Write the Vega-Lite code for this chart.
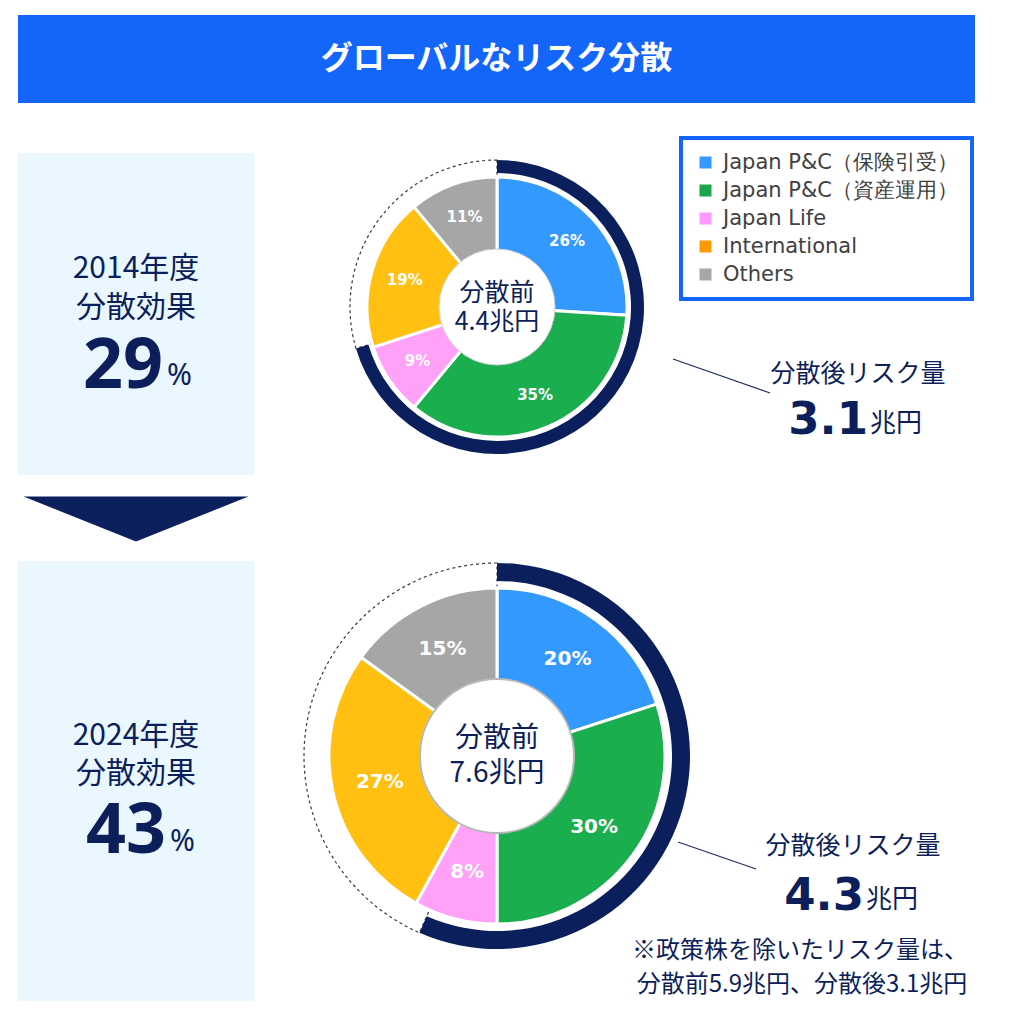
{
  "$schema": "https://vega.github.io/schema/vega-lite/v6.json",
  "padding": {"left": 18, "top": 15, "right": 5, "bottom": 5},
  "background": "white",
  "config": {
    "font": "Noto Sans CJK JP",
    "view": {"stroke": null}
  },
  "datasets": {
    "pie2014": [
      {"seg": "Japan P&C（保険引受）", "k": 1, "share": 0.26},
      {"seg": "Japan P&C（資産運用）", "k": 2, "share": 0.35},
      {"seg": "Japan Life", "k": 3, "share": 0.09},
      {"seg": "International", "k": 4, "share": 0.19},
      {"seg": "Others", "k": 5, "share": 0.11}
    ],
    "pie2024": [
      {"seg": "Japan P&C（保険引受）", "k": 1, "share": 0.20},
      {"seg": "Japan P&C（資産運用）", "k": 2, "share": 0.30},
      {"seg": "Japan Life", "k": 3, "share": 0.08},
      {"seg": "International", "k": 4, "share": 0.27},
      {"seg": "Others", "k": 5, "share": 0.15}
    ],
    "ring2014": [
      {"part": "after", "k": 1, "amount": 3.1},
      {"part": "reduction", "k": 2, "amount": 1.3}
    ],
    "ring2024": [
      {"part": "after", "k": 1, "amount": 4.3},
      {"part": "reduction", "k": 2, "amount": 3.3}
    ],
    "center2014": [{"title": "分散前", "total": "4.4兆円", "label": "分散後リスク量", "after": "3.1", "unit": "兆円"}],
    "center2024": [{"title": "分散前", "total": "7.6兆円", "label": "分散後リスク量", "after": "4.3", "unit": "兆円",
                    "note1": "※政策株を除いたリスク量は、", "note2": "分散前5.9兆円、分散後3.1兆円"}],
    "box2014": [{"year": "2014年度", "label": "分散効果", "effect": "29", "unit": "%"}],
    "box2024": [{"year": "2024年度", "label": "分散効果", "effect": "43", "unit": "%"}],
    "legend": [
      {"seg": "Japan P&C（保険引受）", "k": 1},
      {"seg": "Japan P&C（資産運用）", "k": 2},
      {"seg": "Japan Life", "k": 3},
      {"seg": "International", "k": 4},
      {"seg": "Others", "k": 5}
    ],
    "heading": [{"t": "グローバルなリスク分散"}],
    "blank": [{"t": ""}]
  },
  "resolve": {"scale": {"color": "independent", "theta": "independent"}, "legend": {"color": "independent"}},
  "spacing": 33,
  "vconcat": [
    {
      "width": 957,
      "height": 88,
      "view": {"fill": "#1466fb"},
      "data": {"name": "heading"},
      "mark": {"type": "text", "fontSize": 32, "fontWeight": "bold", "color": "white", "baseline": "middle"},
      "encoding": {"text": {"field": "t"}}
    },
    {
      "resolve": {"scale": {"color": "independent", "theta": "independent"}, "legend": {"color": "independent"}},
      "spacing": 0,
      "vconcat": [
        {
          "resolve": {"scale": {"color": "independent", "theta": "independent"}, "legend": {"color": "independent"}},
          "spacing": 73,
          "hconcat": [
            {
              "spacing": 0,
              "vconcat": [
                {
                  "width": 236, "height": 16,
                  "data": {"name": "blank"},
                  "mark": "text",
                  "encoding": {"text": {"field": "t"}}
                },
                {
                  "width": 236, "height": 322,
                  "view": {"fill": "#eaf7fe"},
                  "data": {"name": "box2014"},
                  "layer": [
                    {"mark": {"type": "text", "fontSize": 30, "color": "#0d1f5a", "baseline": "middle", "dy": -45},
                     "encoding": {"text": {"field": "year"}}},
                    {"mark": {"type": "text", "fontSize": 30, "color": "#0d1f5a", "baseline": "middle", "dy": -6},
                     "encoding": {"text": {"field": "label"}}},
                    {"mark": {"type": "text", "font": "Noto Sans", "fontSize": 70, "fontWeight": "bold", "color": "#0d1f5a", "align": "right", "baseline": "alphabetic", "dx": 27, "dy": 74},
                     "encoding": {"text": {"field": "effect"}}},
                    {"mark": {"type": "text", "font": "Noto Sans", "fontSize": 30, "color": "#0d1f5a", "align": "left", "baseline": "alphabetic", "dx": 31, "dy": 71},
                     "encoding": {"text": {"field": "unit"}}}
                  ]
                }
              ]
            },
            {
              "width": 340, "height": 340,
              "resolve": {"scale": {"theta": "independent", "color": "independent"}, "legend": {"color": "independent"}},
              "layer": [
                {
                  "data": {"name": "ring2014"},
                  "mark": {"type": "arc", "radius": 147, "radius2": 0, "filled": false, "stroke": "#3a3a3a", "strokeWidth": 1.2, "strokeDash": [3, 3]},
                  "encoding": {
                    "theta": {"field": "amount", "type": "quantitative", "stack": true},
                    "order": {"field": "k"},
                    "strokeOpacity": {"condition": {"test": "datum.part === 'reduction'", "value": 1}, "value": 0}
                  }
                },
                {
                  "data": {"name": "ring2014"},
                  "mark": {"type": "arc", "radius": 147, "radius2": 134, "color": "#0b1f5c"},
                  "encoding": {
                    "theta": {"field": "amount", "type": "quantitative", "stack": true},
                    "order": {"field": "k"},
                    "fillOpacity": {"condition": {"test": "datum.part === 'after'", "value": 1}, "value": 0}
                  }
                },
                {
                  "data": {"name": "pie2014"},
                  "mark": {"type": "arc", "radius": 130, "stroke": "white", "strokeWidth": 3},
                  "encoding": {
                    "theta": {"field": "share", "type": "quantitative", "stack": true},
                    "order": {"field": "k"},
                    "color": {"field": "seg", "type": "nominal", "legend": null,
                      "scale": {"domain": ["Japan P&C（保険引受）", "Japan P&C（資産運用）", "Japan Life", "International", "Others"],
                                "range": ["#3399ff", "#1bae4f", "#ffa1f7", "#ffc012", "#a6a6a6"]}}
                  }
                },
                {
                  "data": {"name": "pie2014"},
                  "mark": {"type": "text", "radius": 96, "font": "DejaVu Sans", "fontSize": 15, "fontWeight": "bold", "color": "white"},
                  "encoding": {
                    "theta": {"field": "share", "type": "quantitative", "stack": true},
                    "order": {"field": "k"},
                    "text": {"field": "share", "type": "quantitative", "format": ".0%"}
                  }
                },
                {
                  "data": {"name": "center2014"},
                  "mark": {"type": "point", "shape": "circle", "size": 13456, "filled": true, "fill": "white", "stroke": "#d0d0d0", "strokeWidth": 1, "opacity": 1}
                },
                {
                  "data": {"name": "center2014"},
                  "mark": {"type": "text", "fontSize": 25, "color": "#0d1f5a", "baseline": "middle", "dy": -14},
                  "encoding": {"text": {"field": "title"}}
                },
                {
                  "data": {"name": "center2014"},
                  "mark": {"type": "text", "fontSize": 25, "color": "#0d1f5a", "baseline": "middle", "dy": 15},
                  "encoding": {"text": {"field": "total"}}
                },
                {
                  "data": {"name": "center2014"},
                  "mark": {"type": "point", "shape": "M1.76,0.52L2.73,0.86", "size": 40000, "filled": false, "stroke": "#1d2d5e", "strokeWidth": 1.2, "opacity": 1}
                },
                {
                  "data": {"name": "center2014"},
                  "mark": {"type": "text", "fontSize": 25, "color": "#0d1f5a", "baseline": "middle", "dx": 361, "dy": 67},
                  "encoding": {"text": {"field": "label"}}
                },
                {
                  "data": {"name": "center2014"},
                  "mark": {"type": "text", "font": "DejaVu Sans", "fontSize": 45, "fontWeight": "bold", "color": "#0d1f5a", "align": "right", "baseline": "alphabetic", "dx": 371, "dy": 127},
                  "encoding": {"text": {"field": "after"}}
                },
                {
                  "data": {"name": "center2014"},
                  "mark": {"type": "text", "fontSize": 26, "color": "#0d1f5a", "align": "left", "baseline": "alphabetic", "dx": 373, "dy": 125},
                  "encoding": {"text": {"field": "unit"}}
                },
                {
                  "data": {"name": "legend"},
                  "mark": {"type": "text"},
                  "encoding": {
                    "text": {"value": ""},
                    "color": {"field": "seg", "type": "nominal",
                      "scale": {"domain": ["Japan P&C（保険引受）", "Japan P&C（資産運用）", "Japan Life", "International", "Others"],
                                "range": ["#3399ff", "#1aa64a", "#ff99ff", "#ff9900", "#a6a6a6"]},
                      "legend": {"title": null, "orient": "none", "legendX": 354, "legendY": 1, "padding": 14,
                                 "symbolType": "square", "symbolSize": 144, "symbolStrokeWidth": 0,
                                 "labelFont": "DejaVu Sans", "labelFontSize": 21, "labelColor": "#404040",
                                 "labelOffset": 7, "rowPadding": 6, "labelLimit": 400,
                                 "encode": {"legend": {"update": {"stroke": {"value": "#1466fb"}, "strokeWidth": {"value": 4}, "fill": {"value": "white"}}}}}}
                  }
                }
              ]
            }
          ]
        },
        {
          "resolve": {"scale": {"color": "independent", "theta": "independent"}, "legend": {"color": "independent"}},
          "spacing": 46,
          "hconcat": [
            {
              "spacing": 0,
              "vconcat": [
                {
                  "width": 236, "height": 84,
                  "data": {"name": "blank"},
                  "mark": {"type": "point", "shape": "M-1,-0.2L1,-0.2L0,0.2Z", "size": 50625, "filled": true, "color": "#0b1f5c", "opacity": 1}
                },
                {
                  "width": 236, "height": 440,
                  "view": {"fill": "#eaf7fe"},
                  "data": {"name": "box2024"},
                  "layer": [
                    {"mark": {"type": "text", "fontSize": 30, "color": "#0d1f5a", "baseline": "middle", "dy": -45},
                     "encoding": {"text": {"field": "year"}}},
                    {"mark": {"type": "text", "fontSize": 30, "color": "#0d1f5a", "baseline": "middle", "dy": -7},
                     "encoding": {"text": {"field": "label"}}},
                    {"mark": {"type": "text", "font": "Noto Sans", "fontSize": 70, "fontWeight": "bold", "color": "#0d1f5a", "align": "right", "baseline": "alphabetic", "dx": 30, "dy": 72},
                     "encoding": {"text": {"field": "effect"}}},
                    {"mark": {"type": "text", "font": "Noto Sans", "fontSize": 30, "color": "#0d1f5a", "align": "left", "baseline": "alphabetic", "dx": 34, "dy": 70},
                     "encoding": {"text": {"field": "unit"}}}
                  ]
                }
              ]
            },
            {
              "spacing": 0,
              "vconcat": [
                {
                  "width": 394, "height": 83,
                  "data": {"name": "blank"},
                  "mark": "text",
                  "encoding": {"text": {"field": "t"}}
                },
                {
                  "width": 394, "height": 388,
                  "resolve": {"scale": {"theta": "independent", "color": "independent"}},
                  "layer": [
                    {
                      "data": {"name": "ring2024"},
                      "mark": {"type": "arc", "radius": 193, "radius2": 0, "filled": false, "stroke": "#3a3a3a", "strokeWidth": 1.2, "strokeDash": [3, 3]},
                      "encoding": {
                        "theta": {"field": "amount", "type": "quantitative", "stack": true},
                        "order": {"field": "k"},
                        "strokeOpacity": {"condition": {"test": "datum.part === 'reduction'", "value": 1}, "value": 0}
                      }
                    },
                    {
                      "data": {"name": "ring2024"},
                      "mark": {"type": "arc", "radius": 193, "radius2": 175, "color": "#0b1f5c"},
                      "encoding": {
                        "theta": {"field": "amount", "type": "quantitative", "stack": true},
                        "order": {"field": "k"},
                        "fillOpacity": {"condition": {"test": "datum.part === 'after'", "value": 1}, "value": 0}
                      }
                    },
                    {
                      "data": {"name": "pie2024"},
                      "mark": {"type": "arc", "radius": 168, "stroke": "white", "strokeWidth": 3},
                      "encoding": {
                        "theta": {"field": "share", "type": "quantitative", "stack": true},
                        "order": {"field": "k"},
                        "color": {"field": "seg", "type": "nominal", "legend": null,
                          "scale": {"domain": ["Japan P&C（保険引受）", "Japan P&C（資産運用）", "Japan Life", "International", "Others"],
                                    "range": ["#3399ff", "#1bae4f", "#ffa1f7", "#ffc012", "#a6a6a6"]}}
                      }
                    },
                    {
                      "data": {"name": "pie2024"},
                      "mark": {"type": "text", "radius": 120, "font": "DejaVu Sans", "fontSize": 20, "fontWeight": "bold", "color": "white"},
                      "encoding": {
                        "theta": {"field": "share", "type": "quantitative", "stack": true},
                        "order": {"field": "k"},
                        "text": {"field": "share", "type": "quantitative", "format": ".0%"}
                      }
                    },
                    {
                      "data": {"name": "center2024"},
                      "mark": {"type": "point", "shape": "circle", "size": 23716, "filled": true, "fill": "white", "stroke": "#b8b8b8", "strokeWidth": 2, "opacity": 1}
                    },
                    {
                      "data": {"name": "center2024"},
                      "mark": {"type": "text", "fontSize": 28, "color": "#0d1f5a", "baseline": "middle", "dy": -17},
                      "encoding": {"text": {"field": "title"}}
                    },
                    {
                      "data": {"name": "center2024"},
                      "mark": {"type": "text", "fontSize": 28, "color": "#0d1f5a", "baseline": "middle", "dy": 18},
                      "encoding": {"text": {"field": "total"}}
                    },
                    {
                      "data": {"name": "center2024"},
                      "mark": {"type": "point", "shape": "M1.81,0.86L2.59,1.13", "size": 40000, "filled": false, "stroke": "#1d2d5e", "strokeWidth": 1.2, "opacity": 1}
                    },
                    {
                      "data": {"name": "center2024"},
                      "mark": {"type": "text", "fontSize": 25, "color": "#0d1f5a", "baseline": "middle", "dx": 356, "dy": 90},
                      "encoding": {"text": {"field": "label"}}
                    },
                    {
                      "data": {"name": "center2024"},
                      "mark": {"type": "text", "font": "DejaVu Sans", "fontSize": 45, "fontWeight": "bold", "color": "#0d1f5a", "align": "right", "baseline": "alphabetic", "dx": 367, "dy": 154},
                      "encoding": {"text": {"field": "after"}}
                    },
                    {
                      "data": {"name": "center2024"},
                      "mark": {"type": "text", "fontSize": 26, "color": "#0d1f5a", "align": "left", "baseline": "alphabetic", "dx": 369, "dy": 152},
                      "encoding": {"text": {"field": "unit"}}
                    },
                    {
                      "data": {"name": "center2024"},
                      "mark": {"type": "text", "fontSize": 24, "color": "#0d1f5a", "baseline": "middle", "dx": 303, "dy": 195},
                      "encoding": {"text": {"field": "note1"}}
                    },
                    {
                      "data": {"name": "center2024"},
                      "mark": {"type": "text", "fontSize": 24, "color": "#0d1f5a", "baseline": "middle", "dx": 305, "dy": 229},
                      "encoding": {"text": {"field": "note2"}}
                    }
                  ]
                }
              ]
            }
          ]
        }
      ]
    }
  ]
}
